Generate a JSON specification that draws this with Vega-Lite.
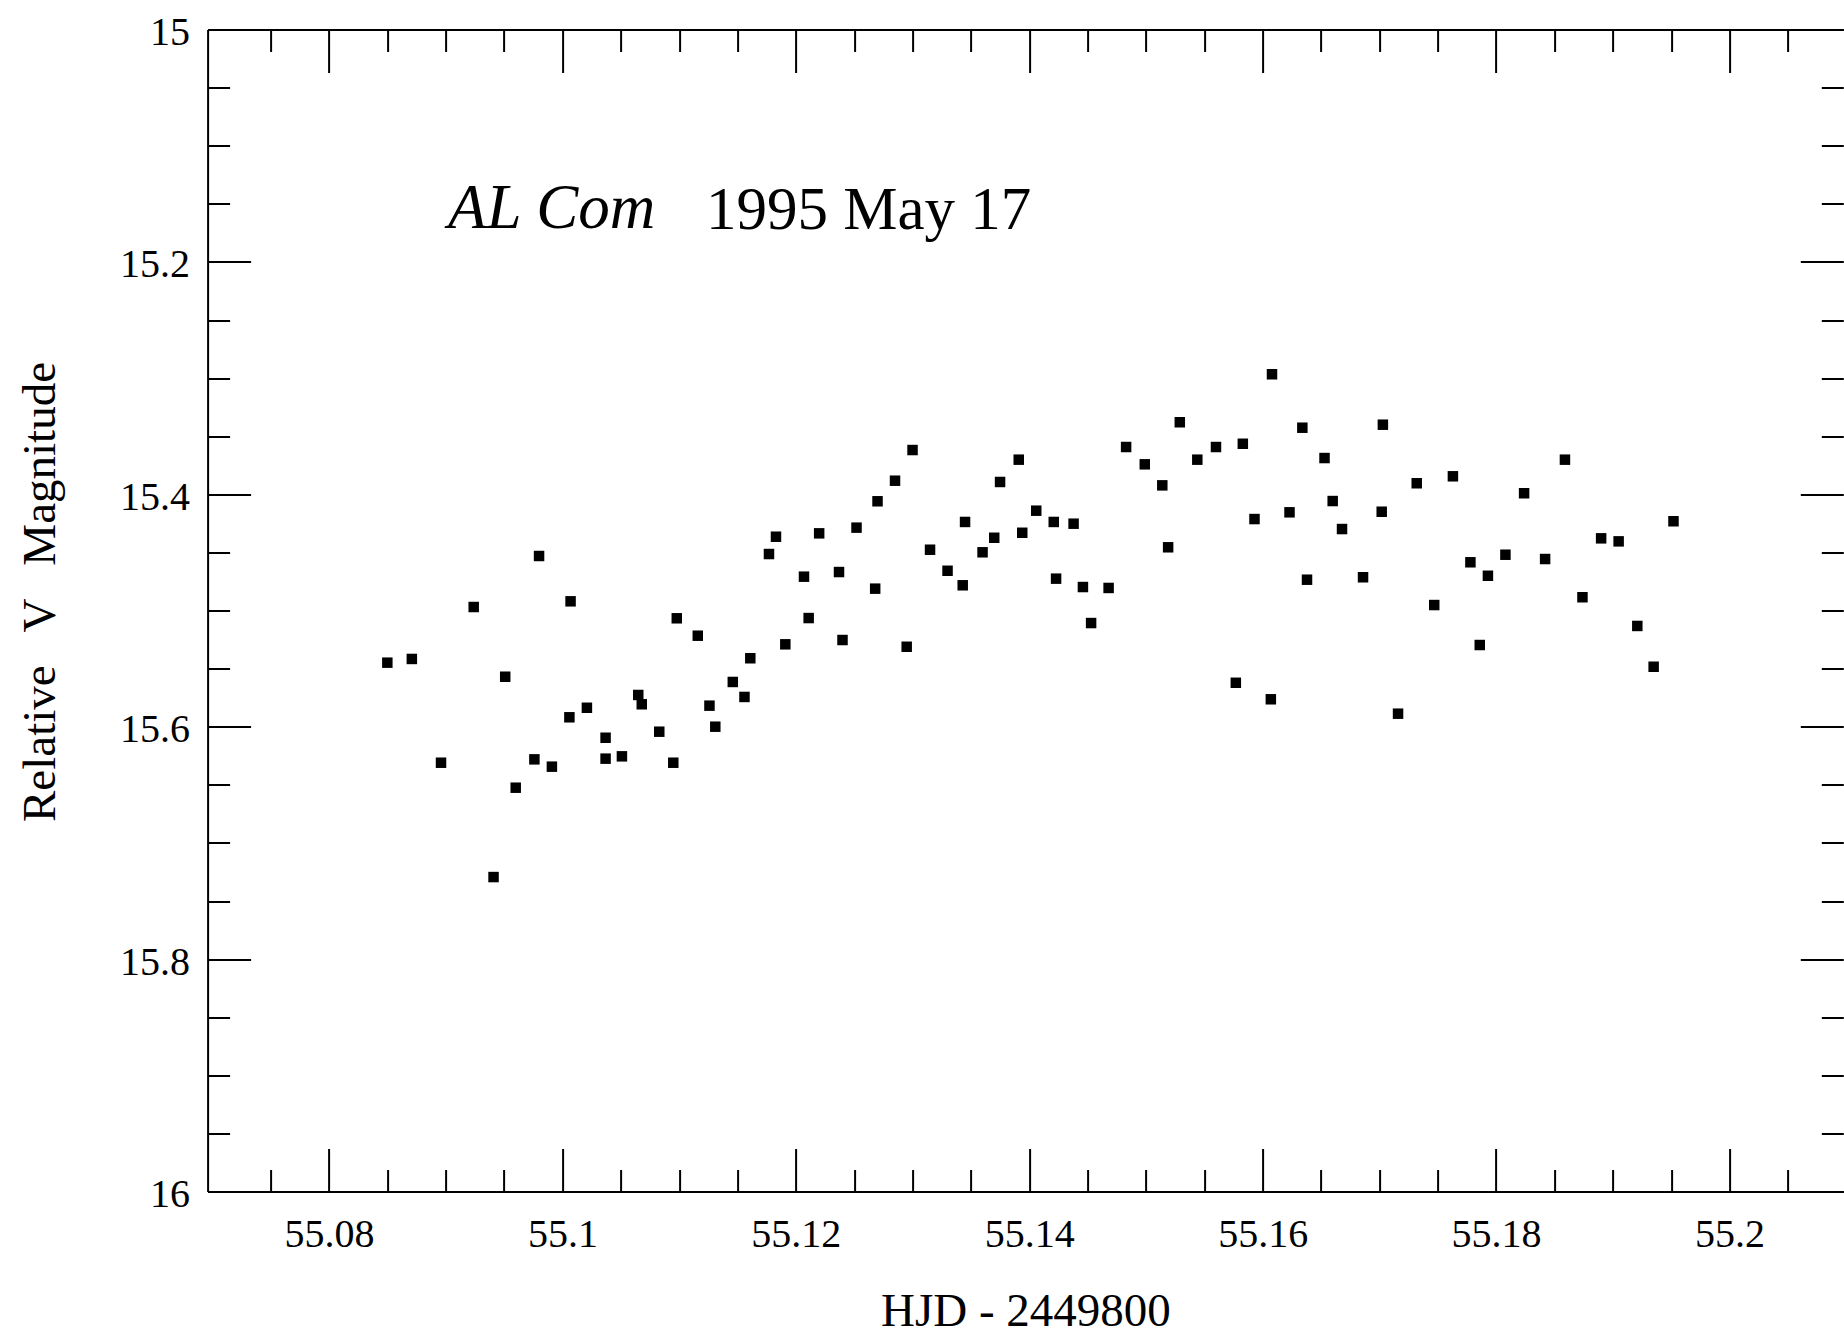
{
  "$schema": "https://vega.github.io/schema/vega-lite/v6.json",
  "width": 1635.7,
  "height": 1162,
  "autosize": {"type": "none"},
  "padding": {"left": 207.6, "top": 29.5, "right": 0.7, "bottom": 147.5},
  "background": "white",
  "config": {
    "view": {"stroke": null},
    "axis": {
      "labelFont": "Liberation Serif",
      "labelFontSize": 40,
      "labelColor": "black",
      "titleFont": "Liberation Serif",
      "titleFontSize": 47,
      "titleFontWeight": "normal",
      "titleColor": "black",
      "domainColor": "black",
      "domainWidth": 2,
      "tickColor": "black",
      "tickWidth": 2,
      "grid": false,
      "labelFlush": false,
      "labelOverlap": false,
      "labelBound": false
    }
  },
  "datasets": {
    "pts": [
      {"hjd": 55.0850, "mag": 15.5449}, {"hjd": 55.0871, "mag": 15.5417}, {"hjd": 55.0896, "mag": 15.6310},
      {"hjd": 55.0924, "mag": 15.4970}, {"hjd": 55.0941, "mag": 15.7294}, {"hjd": 55.0951, "mag": 15.5570},
      {"hjd": 55.0960, "mag": 15.6525}, {"hjd": 55.0976, "mag": 15.6281}, {"hjd": 55.0980, "mag": 15.4531},
      {"hjd": 55.0991, "mag": 15.6344}, {"hjd": 55.1007, "mag": 15.4921}, {"hjd": 55.1006, "mag": 15.5919},
      {"hjd": 55.1021, "mag": 15.5837}, {"hjd": 55.1037, "mag": 15.6095}, {"hjd": 55.1037, "mag": 15.6275},
      {"hjd": 55.1051, "mag": 15.6255}, {"hjd": 55.1065, "mag": 15.5727}, {"hjd": 55.1068, "mag": 15.5807},
      {"hjd": 55.1083, "mag": 15.6043}, {"hjd": 55.1095, "mag": 15.6310}, {"hjd": 55.1098, "mag": 15.5067},
      {"hjd": 55.1116, "mag": 15.5217}, {"hjd": 55.1126, "mag": 15.5819}, {"hjd": 55.1131, "mag": 15.6000},
      {"hjd": 55.1146, "mag": 15.5615}, {"hjd": 55.1156, "mag": 15.5744}, {"hjd": 55.1161, "mag": 15.5411},
      {"hjd": 55.1183, "mag": 15.4365}, {"hjd": 55.1177, "mag": 15.4514}, {"hjd": 55.1191, "mag": 15.5291},
      {"hjd": 55.1207, "mag": 15.4709}, {"hjd": 55.1211, "mag": 15.5065}, {"hjd": 55.1220, "mag": 15.4336},
      {"hjd": 55.1237, "mag": 15.4669}, {"hjd": 55.1240, "mag": 15.5254}, {"hjd": 55.1252, "mag": 15.4287},
      {"hjd": 55.1268, "mag": 15.4812}, {"hjd": 55.1270, "mag": 15.4060}, {"hjd": 55.1285, "mag": 15.3883},
      {"hjd": 55.1295, "mag": 15.5312}, {"hjd": 55.1300, "mag": 15.3619}, {"hjd": 55.1315, "mag": 15.4477},
      {"hjd": 55.1330, "mag": 15.4658}, {"hjd": 55.1343, "mag": 15.4783}, {"hjd": 55.1345, "mag": 15.4238},
      {"hjd": 55.1360, "mag": 15.4499}, {"hjd": 55.1370, "mag": 15.4374}, {"hjd": 55.1375, "mag": 15.3894},
      {"hjd": 55.1391, "mag": 15.3702}, {"hjd": 55.1394, "mag": 15.4331}, {"hjd": 55.1406, "mag": 15.4141},
      {"hjd": 55.1421, "mag": 15.4238}, {"hjd": 55.1423, "mag": 15.4726}, {"hjd": 55.1438, "mag": 15.4253},
      {"hjd": 55.1446, "mag": 15.4798}, {"hjd": 55.1453, "mag": 15.5108}, {"hjd": 55.1468, "mag": 15.4806},
      {"hjd": 55.1483, "mag": 15.3593}, {"hjd": 55.1499, "mag": 15.3742}, {"hjd": 55.1514, "mag": 15.3923},
      {"hjd": 55.1519, "mag": 15.4456}, {"hjd": 55.1529, "mag": 15.3380}, {"hjd": 55.1544, "mag": 15.3702},
      {"hjd": 55.1560, "mag": 15.3593}, {"hjd": 55.1577, "mag": 15.5622}, {"hjd": 55.1583, "mag": 15.3565},
      {"hjd": 55.1593, "mag": 15.4213}, {"hjd": 55.1608, "mag": 15.2967}, {"hjd": 55.1607, "mag": 15.5764},
      {"hjd": 55.1623, "mag": 15.4155}, {"hjd": 55.1634, "mag": 15.3427}, {"hjd": 55.1638, "mag": 15.4735},
      {"hjd": 55.1653, "mag": 15.3688}, {"hjd": 55.1660, "mag": 15.4058}, {"hjd": 55.1668, "mag": 15.4299},
      {"hjd": 55.1686, "mag": 15.4714}, {"hjd": 55.1702, "mag": 15.4150}, {"hjd": 55.1703, "mag": 15.3401},
      {"hjd": 55.1716, "mag": 15.5888}, {"hjd": 55.1732, "mag": 15.3905}, {"hjd": 55.1747, "mag": 15.4953},
      {"hjd": 55.1763, "mag": 15.3845}, {"hjd": 55.1778, "mag": 15.4585}, {"hjd": 55.1786, "mag": 15.5297},
      {"hjd": 55.1793, "mag": 15.4701}, {"hjd": 55.1808, "mag": 15.4520}, {"hjd": 55.1824, "mag": 15.3991},
      {"hjd": 55.1842, "mag": 15.4557}, {"hjd": 55.1859, "mag": 15.3702}, {"hjd": 55.1874, "mag": 15.4886},
      {"hjd": 55.1890, "mag": 15.4379}, {"hjd": 55.1905, "mag": 15.4405}, {"hjd": 55.1921, "mag": 15.5133},
      {"hjd": 55.1935, "mag": 15.5484}, {"hjd": 55.1952, "mag": 15.4232}
    ]
  },
  "resolve": {"axis": {"x": "independent", "y": "independent"}},
  "layer": [
    {
      "data": {"name": "pts"},
      "mark": {"type": "square", "size": 110, "color": "black", "opacity": 1},
      "encoding": {
        "x": {
          "field": "hjd", "type": "quantitative",
          "scale": {"domain": [55.0696, 55.20975], "nice": false, "zero": false},
          "axis": {
            "orient": "bottom",
            "title": "HJD - 2449800",
            "titleBaseline": "alphabetic",
            "titleY": 134,
            "values": [55.075, 55.08, 55.085, 55.09, 55.095, 55.1, 55.105, 55.11, 55.115, 55.12, 55.125, 55.13, 55.135, 55.14, 55.145, 55.15, 55.155, 55.16, 55.165, 55.17, 55.175, 55.18, 55.185, 55.19, 55.195, 55.2, 55.205],
            "tickSize": {"condition": {"test": "abs(datum.value*50 - round(datum.value*50)) < 0.001", "value": -43}, "value": -22},
            "labelPadding": 66,
            "labelExpr": "abs(datum.value*50 - round(datum.value*50)) < 0.001 ? toString(round(datum.value*100)/100) : ''"
          }
        },
        "y": {
          "field": "mag", "type": "quantitative",
          "scale": {"domain": [15, 16], "reverse": true, "nice": false, "zero": false},
          "axis": {
            "orient": "left",
            "title": "Relative\u2002\u2009V\u2002\u2009Magnitude",
            "titleBaseline": "alphabetic",
            "titleX": -153,
            "titleY": 562,
            "titleAngle": -90,
            "values": [15, 15.05, 15.1, 15.15, 15.2, 15.25, 15.3, 15.35, 15.4, 15.45, 15.5, 15.55, 15.6, 15.65, 15.7, 15.75, 15.8, 15.85, 15.9, 15.95, 16],
            "tickSize": {"condition": {"test": "abs(datum.value*5 - round(datum.value*5)) < 0.001", "value": -43}, "value": -22},
            "labelPadding": 61,
            "labelOffset": 3,
            "labelExpr": "abs(datum.value*5 - round(datum.value*5)) < 0.001 ? toString(round(datum.value*10)/10) : ''"
          }
        }
      }
    },
    {
      "data": {"values": [{"hjd": 55.0902, "mag": 15.1708, "label": "AL Com"}]},
      "mark": {"type": "text", "align": "left", "baseline": "alphabetic", "font": "Liberation Serif", "fontSize": 63, "fontStyle": "italic", "color": "black"},
      "encoding": {
        "x": {"field": "hjd", "type": "quantitative", "axis": null},
        "y": {"field": "mag", "type": "quantitative", "axis": null},
        "text": {"field": "label"}
      }
    },
    {
      "data": {"values": [{"hjd": 55.1123, "mag": 15.1715, "label": "1995 May 17"}]},
      "mark": {"type": "text", "align": "left", "baseline": "alphabetic", "font": "Liberation Serif", "fontSize": 61, "color": "black"},
      "encoding": {
        "x": {"field": "hjd", "type": "quantitative", "axis": null},
        "y": {"field": "mag", "type": "quantitative", "axis": null},
        "text": {"field": "label"}
      }
    },
    {
      "data": {"name": "pts"},
      "mark": {"type": "square", "size": 110, "opacity": 0},
      "encoding": {
        "x": {
          "field": "hjd", "type": "quantitative",
          "axis": {
            "orient": "top",
            "title": null,
            "labels": false,
            "values": [55.075, 55.08, 55.085, 55.09, 55.095, 55.1, 55.105, 55.11, 55.115, 55.12, 55.125, 55.13, 55.135, 55.14, 55.145, 55.15, 55.155, 55.16, 55.165, 55.17, 55.175, 55.18, 55.185, 55.19, 55.195, 55.2, 55.205],
            "tickSize": {"condition": {"test": "abs(datum.value*50 - round(datum.value*50)) < 0.001", "value": -43}, "value": -22}
          }
        },
        "y": {
          "field": "mag", "type": "quantitative",
          "axis": {
            "orient": "right",
            "title": null,
            "labels": false,
            "domain": false,
            "values": [15, 15.05, 15.1, 15.15, 15.2, 15.25, 15.3, 15.35, 15.4, 15.45, 15.5, 15.55, 15.6, 15.65, 15.7, 15.75, 15.8, 15.85, 15.9, 15.95, 16],
            "tickSize": {"condition": {"test": "abs(datum.value*5 - round(datum.value*5)) < 0.001", "value": -43}, "value": -22}
          }
        }
      }
    }
  ]
}
